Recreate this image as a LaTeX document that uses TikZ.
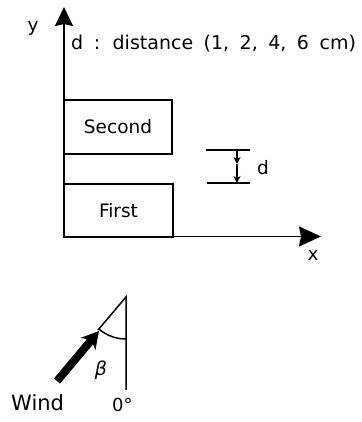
\documentclass[tikz,border=0pt]{standalone}
\usepackage{fontspec}
\setmainfont{DejaVu Sans}
\usetikzlibrary{arrows.meta}
\begin{document}
\begin{tikzpicture}[x=1pt,y=1pt,
  box/.style={draw, line width=2pt, inner sep=0pt, font=\fontsize{18.5}{20}\selectfont},
  axis/.style={line width=1.8pt},
  lbl/.style={font=\fontsize{18.5}{20}\selectfont, inner sep=0pt},
  thinline/.style={line width=1.5pt},
  small/.style={-{Stealth[length=7pt,width=7pt]}}]
\useasboundingbox (0,0) rectangle (361,422);
% axes
\coordinate (O) at (64,185.5);
\coordinate (ytip) at (64,415);
\coordinate (xtip) at (321,185.5);
\draw[axis, -{Stealth[length=19pt,width=18pt,inset=2pt]}] (O) -- (ytip);
\draw[axis, -{Stealth[length=22pt,width=20pt,inset=2pt]}] (O) -- (xtip);
\node[lbl] (ylabel) at (33,394) {y};
\node[lbl] (xlabel) at (313,167) {x};
% title
\node[lbl, anchor=base west] (title) at (71,372) {\fontsize{19}{21}\selectfont\spaceskip=10.5pt d : distance (1, 2, 4, 6 cm)};
% boxes
\node[box, minimum width=108pt, minimum height=54pt] (second) at (118,295) {Second};
\node[box, minimum width=109pt, minimum height=53pt] (first) at (118.5,211.5) {First};
% distance marker
\coordinate (dtl) at (206,272);
\coordinate (dtr) at (250,272);
\coordinate (dbl) at (207,239);
\coordinate (dbr) at (250,239);
\coordinate (dtop) at (237,272);
\coordinate (dmid) at (237,258);
\coordinate (dbot) at (237,239);
\draw[thinline] (dtl) -- (dtr);
\draw[thinline] (dbl) -- (dbr);
\draw[thinline, small] (dtop) -- (dmid);
\draw[thinline, small] (dmid) -- (dbot);
\node[lbl, anchor=base] (dlabel) at (263,247) {d};
% wind
\coordinate (apex) at (126,125);
\coordinate (vbot) at (126,32);
\coordinate (dend) at (98,92);
\coordinate (tail) at (57,41);
\coordinate (tip) at (99,91);
\draw[thinline] (vbot) -- (apex) -- (dend);
\draw[thinline] ([shift={(230:42)}]apex) arc[start angle=230, end angle=270, radius=42];
\draw[line width=8pt, -{Stealth[length=17pt,width=19pt]}] (tail) -- (tip);
\node[inner sep=0pt, font=\fontsize{19}{21}\selectfont\itshape] (beta) at (101,52) {β};
\node[lbl, anchor=base west, font=\fontsize{21}{23}\selectfont] (wind) at (11,12) {Wind};
\node[lbl, anchor=base west, font=\fontsize{18}{20}\selectfont] (zero) at (112,10) {0°};
\end{tikzpicture}
\end{document}
